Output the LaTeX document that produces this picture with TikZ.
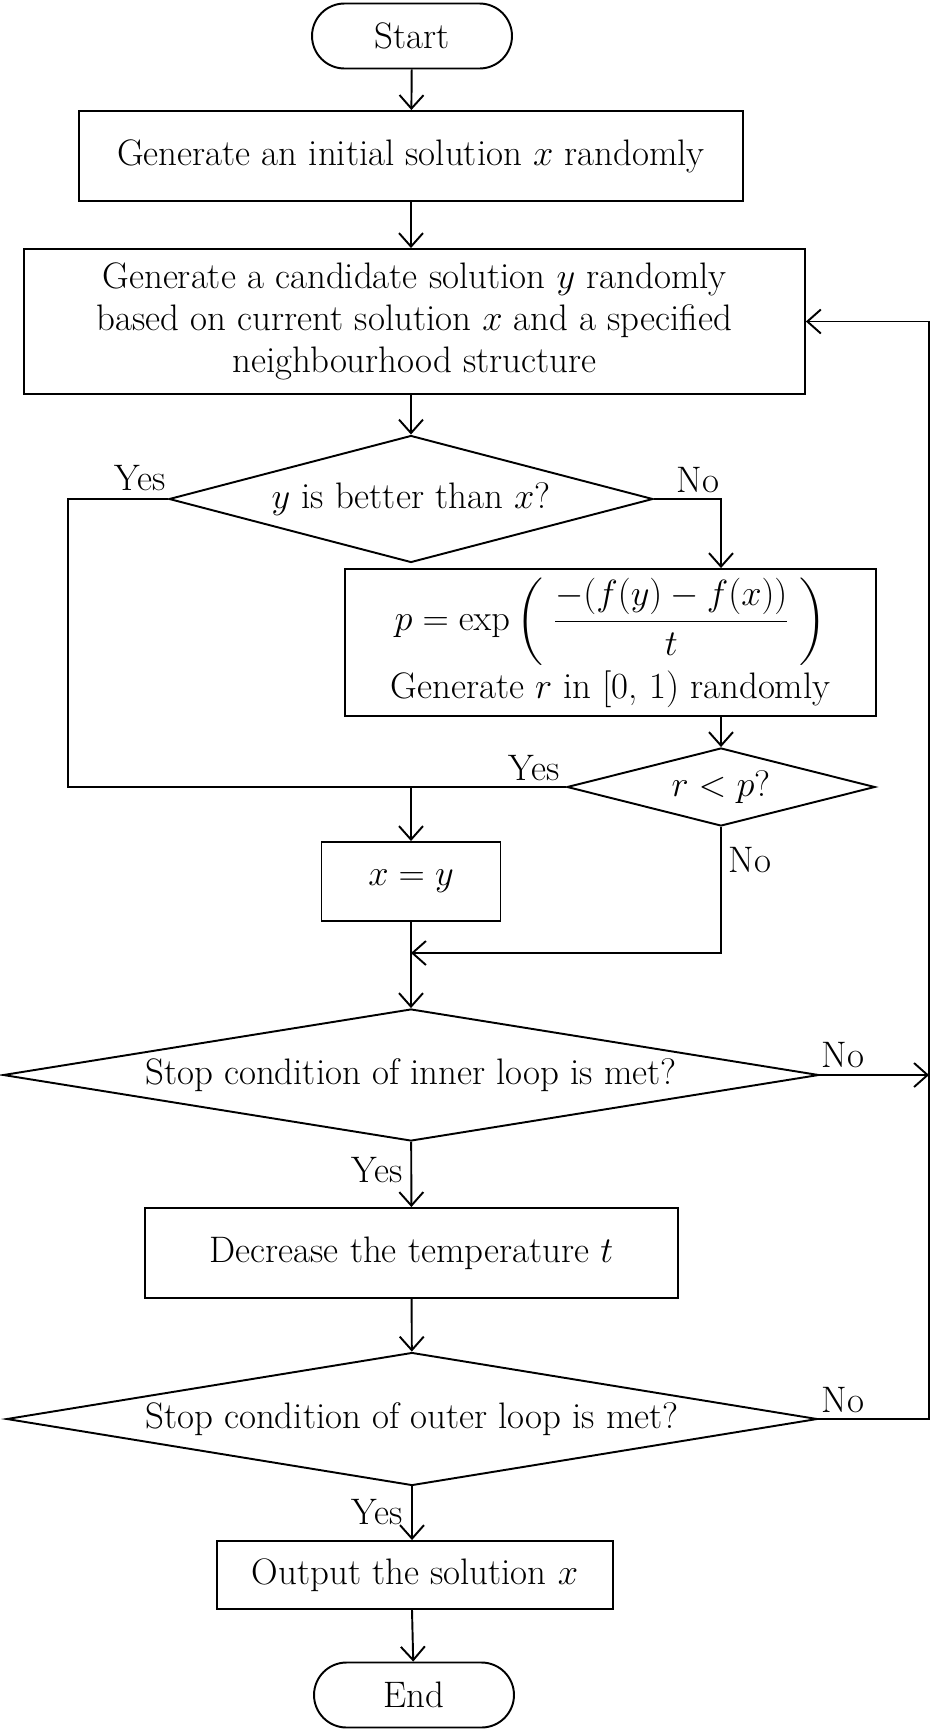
\documentclass[tikz,border=0pt]{standalone}
\usepackage{amsmath}
\usetikzlibrary{shapes.geometric,arrows.meta}
\tikzset{
  box/.style={draw, inner sep=2pt, align=center},
  diam/.style={draw, diamond, inner sep=0pt, aspect=#1},
  diam/.default=4,
  term/.style={draw, rounded corners=0.65cm, minimum width=4cm, minimum height=1.3cm},
  lbl/.style={inner sep=0pt},
}
\begin{document}
\begin{tikzpicture}[x=0.02cm, y=-0.02cm, line width=1.1pt,
  >={Straight Barb[length=0.27cm,width=0.48cm]}, font=\fontsize{21}{24}\selectfont]
\useasboundingbox (0,0) rectangle (931,1731);
% nodes
\node[term] (start) at (412,36) {Start};
\node[box, minimum width=13.3cm, minimum height=1.8cm] (init) at (411,156) {Generate an initial solution $x$ randomly};
\node[box, minimum width=15.62cm, minimum height=2.9cm] (cand) at (414.5,321.5)
  {Generate a candidate solution $y$ randomly\\based on current solution $x$ and a specified\\neighbourhood structure};
\node[diam=3.8, minimum width=9.68cm, minimum height=2.54cm] (better) at (411,499) {$y$ is better than $x$?};
\node[box, minimum width=10.62cm, minimum height=2.94cm] (prob) at (610.5,642.5)
  {$p = \exp\left(\;\dfrac{-(f(y) - f(x))}{t}\;\right)$\\[2pt] Generate $r$ in [0, 1) randomly};
\node[diam=3.95, minimum width=6.16cm, minimum height=1.56cm] (rp) at (721,787) {$r < p$?};
\node[box, minimum width=3.58cm, minimum height=1.58cm] (xy) at (411,881.5) {$x = y$};
\node[diam=6.2, minimum width=16.32cm, minimum height=2.64cm] (inner) at (411,1075) {Stop condition of inner loop is met?};
\node[box, minimum width=10.66cm, minimum height=1.8cm] (temp) at (411.5,1253) {Decrease the temperature $t$};
\node[diam=6.1, minimum width=16.22cm, minimum height=2.66cm] (outer) at (412,1419) {Stop condition of outer loop is met?};
\node[box, minimum width=7.92cm, minimum height=1.36cm] (out) at (415,1575) {Output the solution $x$};
\node[term] (end) at (414,1695) {End};
% joints
\coordinate (jl) at (68,787);
\coordinate (jm) at (411,953);
\coordinate (rail) at (929,321.5);
% main flow
\draw[->] (start) -- (init);
\draw[->] (init) -- (cand.north -| init);
\draw[->] (cand.south -| better) -- (better);
\draw[->] (better.east) -| (rp |- prob.north);
\draw[->] (rp |- prob.south) -- (rp);
\draw (better.west) -| (jl) -- (rp.west);
\draw[->] (xy |- rp.west) -- (xy);
\draw[->] (rp.south) |- (jm);
\draw[->] (xy) -- (inner);
\draw[->] (inner.east) -- (inner.east -| rail);
\draw[->] (inner) -- (temp);
\draw[->] (temp) -- (outer);
\draw[->] (outer.east) -| (rail) -- (cand.east);
\draw[->] (outer.south) -- (outer.south |- out.north);
\draw[->] (outer.south |- out.south) -- (end);
% labels
\node[lbl] (y1) at (140,478) {Yes};
\node[lbl] (n1) at (698,480) {No};
\node[lbl] (y2) at (534,768) {Yes};
\node[lbl] (n2) at (750,860) {No};
\node[lbl] (n3) at (843,1055) {No};
\node[lbl] (y3) at (377,1170) {Yes};
\node[lbl] (n4) at (843,1400) {No};
\node[lbl] (y4) at (377,1512) {Yes};
\end{tikzpicture}
\end{document}
